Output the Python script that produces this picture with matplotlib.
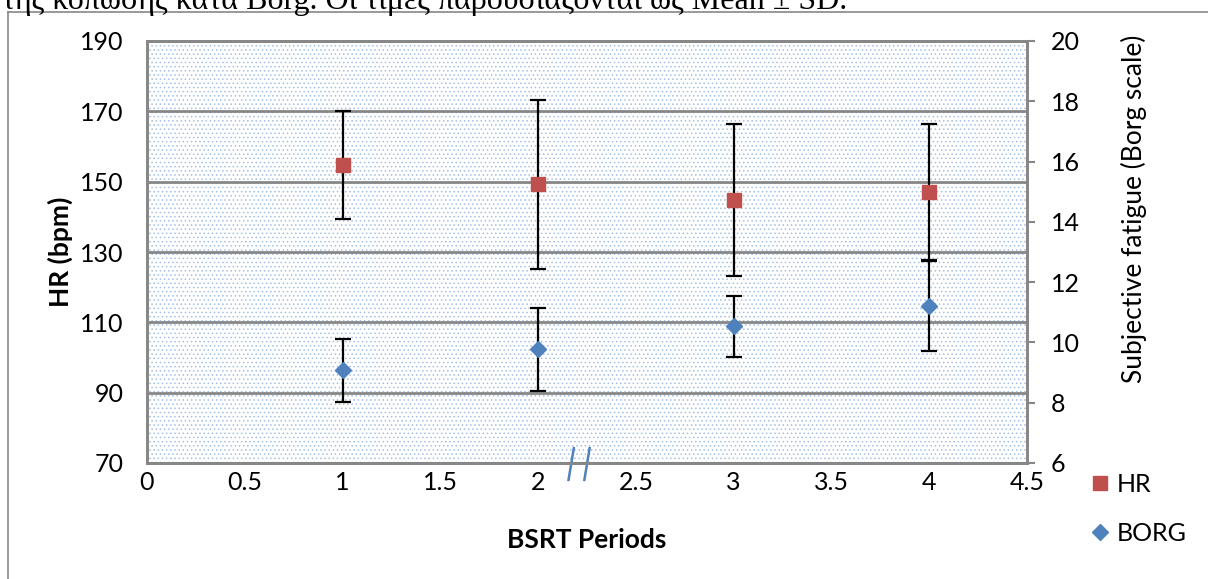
"""HR and Borg fatigue across BSRT periods (mean ± SD), dual y axis."""

import matplotlib

matplotlib.use("Agg")
import matplotlib.pyplot as plt  # noqa: E402
from matplotlib.lines import Line2D  # noqa: E402
from matplotlib.patches import Rectangle  # noqa: E402

periods = [1, 2, 3, 4]
hr_mean = [154.8, 149.2, 144.8, 147.0]
hr_sd = [15.3, 23.9, 21.6, 19.4]
borg_mean = [9.08, 9.77, 10.53, 11.2]
borg_sd = [1.05, 1.38, 1.0, 1.5]

hr_ticks = [70, 90, 110, 130, 150, 170, 190]
borg_ticks = [6, 8, 10, 12, 14, 16, 18, 20]
x_ticks = [0, 0.5, 1, 1.5, 2, 2.5, 3, 3.5, 4, 4.5]
x_labels = ["0", "0.5", "1", "1.5", "2", "2.5", "3", "3.5", "4", "4.5"]

caption = "της κόπωσης κατά Borg. Οι τιμές παρουσιάζονται ως Mean ± SD."

RED = "#c0504d"
BLUE = "#4f81bd"
GRAY = "#878787"
FONT = "Lato"
FS = 18
LFS = 19

W, H = 1208, 579
plt.rcParams["hatch.linewidth"] = 0.6

fig = plt.figure(figsize=(W / 100, H / 100), dpi=100)
ax = fig.add_axes([147 / W, 1 - 463 / H, 880 / W, 422 / H])
ax2 = ax.twinx()

# dotted plot-area fill
ax.add_patch(Rectangle((0, 0), 1, 1, transform=ax.transAxes, facecolor="white",
                       edgecolor="#a3c0e4", hatch="....", lw=0, zorder=0))

ax.errorbar(periods, hr_mean, yerr=hr_sd, fmt="s", color=RED, ms=10.5,
            ecolor="black", elinewidth=1.6, capsize=6, capthick=1.6, zorder=3,
            label="HR")
ax2.errorbar(periods, borg_mean, yerr=borg_sd, fmt="D", color=BLUE, ms=8,
             ecolor="black", elinewidth=1.6, capsize=6, capthick=1.6, zorder=3,
             label="BORG")

ax.set_xlim(0, 4.5)
ax.set_ylim(70, 190)
ax2.set_ylim(6, 20)
ax.set_yticks(hr_ticks)
ax2.set_yticks(borg_ticks)
ax.set_xticks(x_ticks)
ax.set_xticklabels(x_labels)

ax.grid(axis="y", color=GRAY, lw=2, zorder=1)
ax.set_axisbelow(True)
for a in (ax, ax2):
    for s in a.spines.values():
        s.set_color(GRAY)
        s.set_linewidth(2)
ax.tick_params(axis="y", length=0, pad=17, labelsize=FS)
ax.tick_params(axis="x", length=0, pad=6, labelsize=FS)
ax2.tick_params(axis="y", length=6, width=1.5, color=GRAY, pad=11, labelsize=FS)
for lab in ax.get_xticklabels() + ax.get_yticklabels() + ax2.get_yticklabels():
    lab.set_fontfamily(FONT)

ax.set_ylabel("HR (bpm)", fontsize=LFS, fontweight="bold", family=FONT)
ax.yaxis.set_label_coords(-(147 - 60) / 880, 0.5)
ax.set_xlabel("BSRT Periods", fontsize=LFS, fontweight="bold", family=FONT)
ax.xaxis.set_label_coords(0.5, -(540 - 463) / 422)
ax.xaxis.label.set_va("center")
ax.yaxis.label.set_va("center")
fig.text(1134 / W, 1 - 209 / H, "Subjective fatigue (Borg scale)", rotation=90,
         ha="center", va="center", fontsize=LFS, family=FONT)

# axis break mark
for x0 in (0.485, 0.503):
    ax.add_line(Line2D([x0, x0 - 0.006], [0.035, -0.04], transform=ax.transAxes,
                       color=BLUE, lw=1.8, clip_on=False, zorder=5))

_, l1 = ax.get_legend_handles_labels()
_, l2 = ax2.get_legend_handles_labels()
handles = [Line2D([], [], marker="s", ls="none", color=RED, ms=10.5),
           Line2D([], [], marker="D", ls="none", color=BLUE, ms=8)]
fig.legend(handles, l1 + l2, loc="upper left", bbox_to_anchor=(1062 / W, 1 - 450 / H),
           frameon=False, prop={"family": FONT, "size": FS}, labelspacing=1.05,
           handletextpad=0.1, handlelength=1.2)

# chart frame and clipped caption line above it
fig.add_artist(Line2D([8 / W, 1.0], [1 - 12 / H] * 2, color=GRAY, lw=1.2))
fig.add_artist(Line2D([8 / W] * 2, [0, 1 - 12 / H], color=GRAY, lw=1.2))
fig.text(2 / W, 1 - 9 / H, caption, family="Liberation Serif", fontsize=23,
         va="baseline", ha="left")

fig.savefig("out.png", dpi=100)
plt.close(fig)
